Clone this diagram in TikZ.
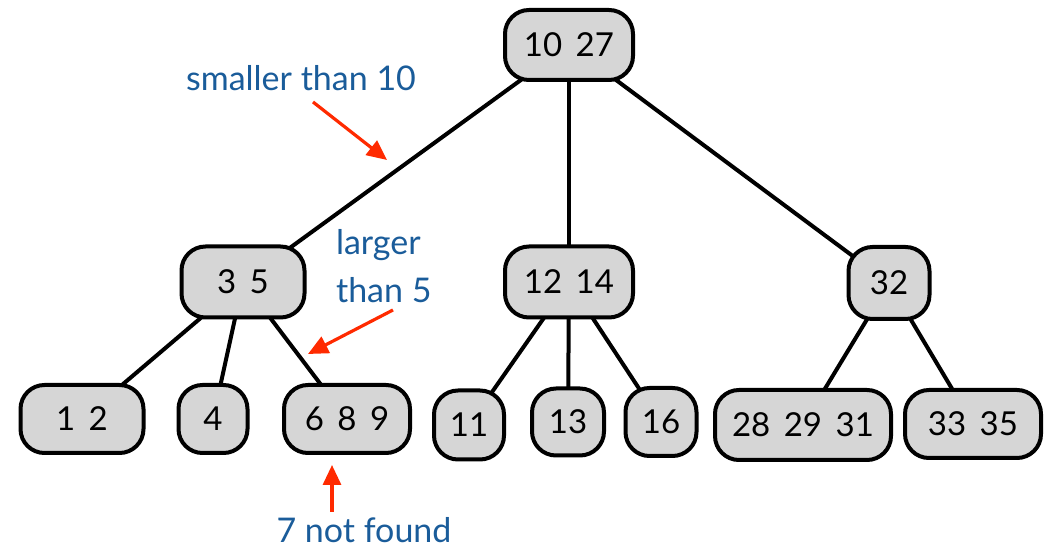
\documentclass[tikz,border=0pt]{standalone}
\usepackage{fontspec}
\setmainfont{Lato}[WordSpace=1.6]
\newfontfamily\notefont{Lato}
\usetikzlibrary{arrows.meta,backgrounds}
\definecolor{keyfill}{HTML}{D6D6D6}
\definecolor{noteblue}{HTML}{1A5C9A}
\definecolor{notered}{HTML}{FF2A00}
\begin{document}
\begin{tikzpicture}[x=0.5pt,y=-0.5pt,
  key/.style={draw=black, line width=2pt, fill=keyfill, rounded corners=12pt,
    minimum height=35pt, inner sep=0pt, font=\fontsize{16.5}{18}\selectfont},
  link/.style={line width=2pt},
  note/.style={text=noteblue, font=\notefont\fontsize{17}{24}\selectfont},
  pointer/.style={draw=notered, line width=1.6pt, -{Triangle[length=10pt,width=9pt]}}]
\useasboundingbox (0,0) rectangle (1055,549);

% B-tree nodes
\node[key, minimum width=64pt] (root) at (569,45) {10 27};
\node[key, minimum width=61.5pt, minimum height=35.5pt] (n35) at (243,282) {3 5};
\node[key, minimum width=64pt, minimum height=35.5pt] (n1214) at (569,282) {12 14};
\node[key, minimum width=40.5pt, minimum height=36pt] (n32) at (889,283) {32};
\node[key, minimum width=61.5pt, minimum height=34pt] (n12) at (82,419) {1 2};
\node[key, minimum width=34.5pt, minimum height=34pt] (n4) at (213,419) {4};
\node[key, minimum width=63pt, minimum height=34pt] (n689) at (347,419) {6 8 9};
\node[key, minimum width=35pt, minimum height=34.5pt] (n11) at (469,425) {11};
\node[key, minimum width=36pt, minimum height=33.5pt] (n13) at (568,422) {13};
\node[key, minimum width=35.5pt, minimum height=34pt] (n16) at (661,422) {16};
\node[key, minimum width=88pt] (n282931) at (803,425) {28 29 31};
\node[key, minimum width=68pt, minimum height=34pt] (n3335) at (973,424) {33 35};

% tree links, drawn behind the boxes
\begin{scope}[on background layer]
  \draw[link] (root.center) -- (n35.center);
  \draw[link] (root.center) -- (n1214.center);
  \draw[link] (root.center) -- (n32.center);
  \draw[link] (n35.center) -- (n12.center);
  \draw[link] (n35.center) -- (n4.center);
  \draw[link] (n35.center) -- (n689.center);
  \draw[link] (n1214.center) -- (n11.center);
  \draw[link] (n1214.center) -- (n13.center);
  \draw[link] (n1214.center) -- (n16.center);
  \draw[link] (n32.center) -- (n282931.center);
  \draw[link] (n32.center) -- (n3335.center);
\end{scope}

% search annotations
\node[note] (smaller) at (301,78) {smaller than 10};
\node[note, align=left, anchor=west] (larger) at (329,266) {larger\\than 5};
\node[note, inner sep=0pt] (notfound) at (364,530) {7 not found};

\coordinate (p1s) at (313,102);
\coordinate (p1e) at (387,160);
\coordinate (p2s) at (393,310);
\coordinate (p2e) at (308,354);
\coordinate (p3s) at (332,512);
\coordinate (p3e) at (332,465);
\draw[pointer] (p1s) -- (p1e);
\draw[pointer] (p2s) -- (p2e);
\draw[pointer] (p3s) -- (p3e);
\end{tikzpicture}
\end{document}
